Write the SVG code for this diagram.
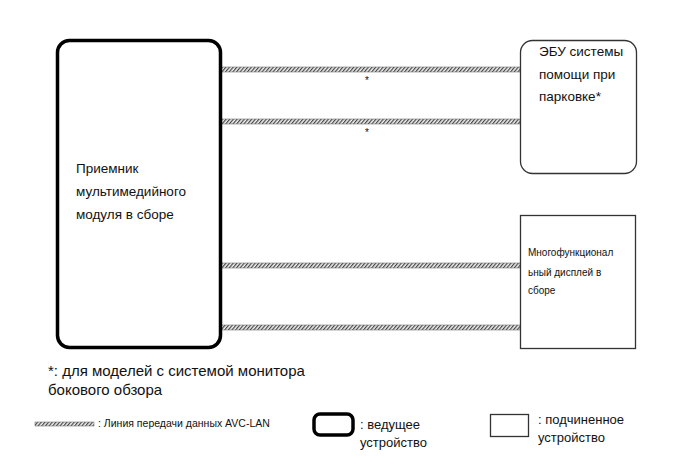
<svg xmlns="http://www.w3.org/2000/svg" width="689" height="465" viewBox="0 0 689 465">
<defs>
<pattern id="hatch" width="2.8" height="2.8" patternUnits="userSpaceOnUse" patternTransform="rotate(40)">
<rect width="2.8" height="2.8" fill="#f0f0f0"/>
<rect width="1.2" height="2.8" fill="#444"/>
</pattern>
<style>
text{font-family:"Liberation Sans",Arial,sans-serif;fill:#111}
.master{fill:#fff;stroke:#000;stroke-width:3.5}
.slave{fill:#fff;stroke:#333;stroke-width:1.3}
.band{fill:url(#hatch);stroke:#777;stroke-width:0.6}
.t13{font-size:13.5px}
.t10{font-size:10px}
.lg{font-size:13px}
</style>
</defs>
<rect width="689" height="465" fill="#fff"/>
<g id="connectors">
<rect class="band" x="221" y="67" width="299" height="5"/>
<rect class="band" x="221" y="119" width="299" height="5"/>
<rect class="band" x="221" y="263" width="299" height="5"/>
<rect class="band" x="221" y="325" width="299" height="5"/>
<text class="t10" x="365" y="84">*</text>
<text class="t10" x="365" y="136">*</text>
</g>
<g id="master-node">
<rect class="master" x="57.5" y="40.5" width="163" height="307" rx="12"/>
<text class="t13" x="76" y="173">Приемник</text>
<text class="t13" x="76" y="196">мультимедийного</text>
<text class="t13" x="76" y="219">модуля в сборе</text>
</g>
<g id="parking-ecu">
<rect class="slave" x="520.5" y="40.5" width="116" height="133" rx="12"/>
<text class="t13" x="539" y="56">ЭБУ системы</text>
<text class="t13" x="539" y="79">помощи при</text>
<text class="t13" x="539" y="101">парковке*</text>
</g>
<g id="display">
<rect class="slave" x="520.5" y="215.5" width="115" height="133"/>
<text class="t10" x="528" y="256">Многофункционал</text>
<text class="t10" x="528" y="276">ьный дисплей в</text>
<text class="t10" x="528" y="294">сборе</text>
</g>
<g id="footnote">
<text x="48" y="376" font-size="15">*: для моделей с системой монитора</text>
<text x="48" y="395" font-size="15">бокового обзора</text>
</g>
<g id="legend">
<rect class="band" x="35" y="422" width="59" height="4"/>
<text x="98" y="427" font-size="10.5">: Линия передачи данных AVC-LAN</text>
<rect class="master" x="314" y="414" width="39" height="21" rx="6"/>
<text class="lg" x="360" y="429">: ведущее</text>
<text class="lg" x="360" y="447">устройство</text>
<rect class="slave" x="490.5" y="414.5" width="38" height="22"/>
<text class="lg" x="538" y="424">: подчиненное</text>
<text class="lg" x="538" y="442">устройство</text>
</g>
</svg>
